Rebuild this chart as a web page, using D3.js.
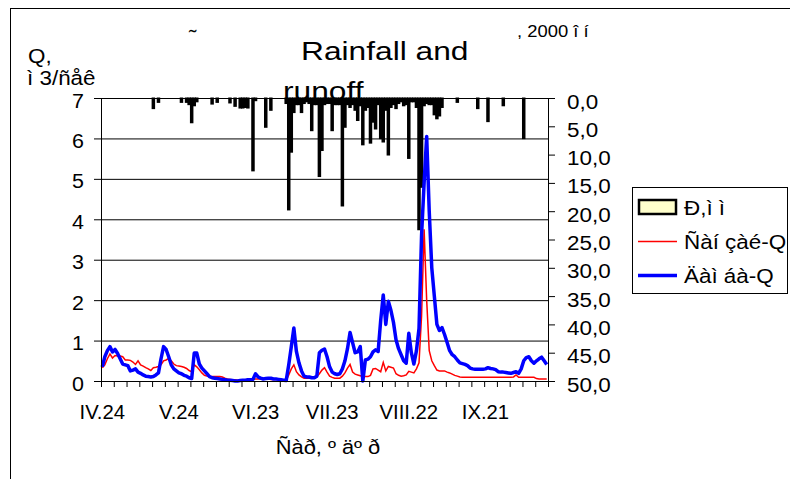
<!DOCTYPE html>
<html>
<head>
<meta charset="utf-8">
<script src="https://cdn.jsdelivr.net/npm/d3@7"></script>
<style>
body { margin: 0; background: #fff; }
svg { display: block; font-family: "Liberation Sans", Arial, sans-serif; }
</style>
</head>
<body>
<svg width="790" height="479"></svg>
<script>
// daily categories, 24 Apr .. 15 Oct 2000
const firstDay = new Date(2000, 3, 24);
const lastDay = new Date(2000, 9, 16);
const romanMonths = ['I','II','III','IV','V','VI','VII','VIII','IX','X','XI','XII'];
const labelEvery = 30;
const tickEvery = 5;

const seriesNames = ['Ð,ì ì', 'Ñàí çàé-Q', 'Äàì áà-Q'];

// rainfall, mm (right axis, hanging bars)
const rain = [
    0,0,0,0,0,0,0,0,0,0,
    0,0,0,0,0,0,0,0,0,0,
    1.7,0,0.6,0,0,0,0,0,0,0,
    0,0.6,0,0.6,1.0,4.2,1.2,0.5,0,0,
    0,0,0,0.9,0,0.6,0,0,0,0,
    0.7,0,1.3,0,1.6,1.6,1.5,1.6,0,12.7,
    0.3,0,0,0,5.0,0,2.0,0,0,0,
    0,0,0.8,19.6,9.4,2.4,1.0,1.0,2.4,0.8,
    0.5,0.8,5.6,1.0,1.0,13.7,9.1,1.0,0.8,0.8,
    5.6,1.0,1.0,1.0,18.9,5.0,1.0,1.5,1.0,2.0,
    3.8,1.2,8.1,2.0,1.5,7.8,4.1,5.3,1.0,7.0,
    7.6,2.0,9.9,1.5,1.0,1.7,0.8,0.5,1.2,1.0,
    10.5,0.5,0.5,1.5,23.1,15.6,1.2,0.8,1.0,1.0,
    2.8,3.5,3.0,1.5,0,0,0,0,0,0.6,
    0,0,0,0,0,0,0,1.7,0,0,
    0,4.0,0,0,0,0,0,1.2,0,0,
    0,0,0,0,0,7.0,0,0,0,0,
    0,0,0,0,0
];

// red series, m3/s
const sanzaiQ = [
    0.33,0.4,0.55,0.67,0.57,0.63,0.62,0.62,0.6,0.52,
    0.52,0.51,0.47,0.41,0.5,0.4,0.37,0.33,0.3,0.26,
    0.33,0.34,0.36,0.4,0.5,0.52,0.56,0.5,0.42,0.38,
    0.37,0.36,0.34,0.31,0.26,0.23,0.4,0.35,0.28,0.2,
    0.14,0.12,0.1,0.11,0.11,0.11,0.11,0.1,0.07,0.05,
    0.04,0.03,0.03,0.02,0.02,0.03,0.03,0.04,0.04,0.04,
    0.05,0.05,0.05,0.05,0.05,0.05,0.04,0.04,0.04,0.04,
    0.03,0.02,0.01,0.15,0.3,0.4,0.23,0.15,0.1,0.07,
    0.07,0.07,0.07,0.08,0.11,0.18,0.27,0.33,0.22,0.12,
    0.09,0.07,0.07,0.07,0.12,0.2,0.32,0.41,0.22,0.17,
    0.15,0.13,0.11,0.11,0.11,0.14,0.3,0.31,0.27,0.23,
    0.46,0.25,0.36,0.34,0.32,0.18,0.14,0.12,0.13,0.15,
    0.24,0.22,0.2,0.3,0.45,1.6,3.75,2.0,0.75,0.5,
    0.38,0.27,0.25,0.25,0.25,0.22,0.2,0.17,0.14,0.12,
    0.1,0.09,0.09,0.09,0.09,0.09,0.09,0.09,0.09,0.09,
    0.09,0.09,0.09,0.09,0.09,0.09,0.09,0.09,0.09,0.09,
    0.09,0.1,0.15,0.09,0.09,0.09,0.09,0.09,0.09,0.09,
    0.06,0.05,0.05,0.05,0.05
];

// blue series, m3/s
const dambaQ = [
    0.35,0.6,0.75,0.85,0.72,0.78,0.68,0.55,0.42,0.4,
    0.38,0.25,0.27,0.3,0.22,0.19,0.15,0.12,0.11,0.1,
    0.11,0.15,0.2,0.55,0.85,0.78,0.6,0.4,0.3,0.25,
    0.2,0.18,0.14,0.12,0.08,0.06,0.69,0.69,0.42,0.32,
    0.25,0.18,0.11,0.08,0.07,0.06,0.05,0.04,0.03,0.02,
    0.02,0.01,0,0,0.01,0.02,0.02,0.03,0.03,0.04,
    0.18,0.1,0.07,0.05,0.06,0.07,0.07,0.05,0.05,0.04,
    0.03,0.02,0.01,0.4,0.85,1.31,0.73,0.45,0.25,0.12,
    0.1,0.1,0.08,0.08,0.12,0.7,0.76,0.79,0.6,0.35,
    0.22,0.18,0.16,0.18,0.3,0.5,0.8,1.2,0.95,0.7,
    0.72,0.85,0,0.52,0.54,0.6,0.72,0.77,0.73,1.5,
    2.13,1.4,1.97,1.75,1.45,1.02,0.8,0.65,0.5,0.44,
    1.18,0.7,0.42,0.75,1.3,3.6,4.9,6.05,4.2,2.8,
    2.1,1.4,1.25,1.32,1.15,0.95,0.75,0.65,0.6,0.52,
    0.45,0.43,0.41,0.38,0.32,0.3,0.29,0.29,0.29,0.29,
    0.3,0.33,0.31,0.3,0.28,0.23,0.22,0.22,0.21,0.2,
    0.19,0.21,0.23,0.19,0.3,0.5,0.58,0.6,0.5,0.44,
    0.5,0.55,0.59,0.5,0.41
];

const qTicks = [0,1,2,3,4,5,6,7];
const rainTicks = [0,5,10,15,20,25,30,35,40,45,50];

var L = 101, R = 548, T = 98, B = 381;

var days = d3.timeDay.range(firstDay, lastDay);

var svg = d3.select('svg');

var x = d3.scaleBand().domain(d3.range(days.length)).range([L, R]).padding(0);
var bw = x.bandwidth();
var xLin = d3.scaleLinear().domain([0, days.length]).range([L, R]);
var y = d3.scaleLinear().domain([0, 7]).range([B, T]);
var yR = d3.scaleLinear().domain([0, 50]).range([T, B]);

var comma = d3.formatLocale({decimal: ',', thousands: ' ', grouping: [3], currency: ['', '']}).format('.1f');

function txt(g, px, py, s, size, sx, anchor) {
    return g.append('text')
        .attr('transform', `translate(${px},${py}) scale(${sx},1)`)
        .attr('font-size', size)
        .attr('text-anchor', anchor || 'start')
        .attr('fill', '#000')
        .text(s);
}

// chart frame
svg.append('rect')
    .attr('x', 10.5).attr('y', 8.5)
    .attr('width', 800).attr('height', 500)
    .attr('fill', 'none').attr('stroke', '#000');

// gridlines
svg.append('g').selectAll('line')
    .data(qTicks.filter(d => d > 0)).enter().append('line')
    .attr('x1', L).attr('x2', R)
    .attr('y1', d => y(d) + 0.5).attr('y2', d => y(d) + 0.5)
    .attr('stroke', '#000');

// rainfall bars hanging from the top
svg.append('g').selectAll('rect')
    .data(rain.map((v, i) => [i, v]).filter(d => d[1] > 0)).enter().append('rect')
    .attr('x', d => x(d[0]) + bw / 2 - 0.75)
    .attr('y', T + 0.5)
    .attr('width', 1.5)
    .attr('height', d => yR(d[1]) - T)
    .attr('fill', '#ffffcc')
    .attr('stroke', '#000')
    .attr('stroke-width', 2);

var line = d3.line()
    .x((d, i) => x(i) + bw / 2)
    .y(d => y(d));

svg.append('path').datum(sanzaiQ)
    .attr('d', line)
    .attr('fill', 'none')
    .attr('stroke', '#ff0000')
    .attr('stroke-width', 1.5);

svg.append('path').datum(dambaQ)
    .attr('d', line)
    .attr('fill', 'none')
    .attr('stroke', '#0000ff')
    .attr('stroke-width', 3.5)
    .attr('stroke-linejoin', 'round');

// left axis
var gl = svg.append('g')
    .attr('transform', `translate(${L},0)`)
    .call(d3.axisLeft(y).tickValues(qTicks).tickFormat(d3.format('d')).tickSize(7).tickSizeOuter(0))
    .attr('font-size', null).attr('font-family', null);
gl.selectAll('.tick text')
    .attr('x', null).attr('dy', null)
    .attr('transform', 'translate(-17,9) scale(1.1,1)')
    .attr('font-size', 19.5)
    .attr('fill', '#000');

// right axis
var gr = svg.append('g')
    .attr('transform', `translate(${R},0)`)
    .call(d3.axisRight(yR).tickValues(rainTicks).tickFormat(comma).tickSize(7).tickSizeOuter(0))
    .attr('font-size', null).attr('font-family', null);
gr.selectAll('.tick text')
    .attr('x', null).attr('dy', null)
    .attr('transform', 'translate(19,10) scale(1.15,1)')
    .attr('font-size', 19.5)
    .attr('fill', '#000');

// bottom axis: ticks between categories, labels every 30 days
svg.append('g')
    .attr('transform', `translate(0,${B})`)
    .call(d3.axisBottom(xLin).tickValues(d3.range(0, days.length + 1, tickEvery)).tickFormat('').tickSize(6).tickSizeOuter(0));

var gx = svg.append('g');
days.forEach((d, i) => {
    if (i % labelEvery === 0)
        txt(gx, x(i) + bw / 2, 419, romanMonths[d.getMonth()] + '.' + d.getDate(), 19.5, 1.04, 'middle');
});

// titles
txt(svg, 301, 60, 'Rainfall and', 26, 1.22);
txt(svg, 283, 100, 'runoff', 26, 1.22);
txt(svg, 189, 44, '˜', 19.5, 1.15);
txt(svg, 517, 37, ',  2000  î  í', 16, 1.15);
txt(svg, 28, 63, 'Q,', 19.5, 1.15);
txt(svg, 27, 85, 'ì 3/ñåê', 19.5, 1.15);
txt(svg, 328, 454, 'Ñàð, º äº ð', 19.5, 1.12, 'middle');

// legend
var lg = svg.append('g');
lg.append('rect')
    .attr('x', 632.5).attr('y', 187.5)
    .attr('width', 155).attr('height', 106)
    .attr('fill', '#fff').attr('stroke', '#000');
lg.append('rect')
    .attr('x', 639).attr('y', 200)
    .attr('width', 37).attr('height', 14)
    .attr('fill', '#ffffcc').attr('stroke', '#000').attr('stroke-width', 2.5);
lg.append('line')
    .attr('x1', 638).attr('x2', 677).attr('y1', 241.5).attr('y2', 241.5)
    .attr('stroke', '#ff0000').attr('stroke-width', 1.5);
lg.append('line')
    .attr('x1', 638).attr('x2', 677).attr('y1', 275.5).attr('y2', 275.5)
    .attr('stroke', '#0000ff').attr('stroke-width', 3.5);
seriesNames.forEach((s, i) => txt(lg, 684, 215 + i * 34, s, 19.5, 1.15));
</script>
</body>
</html>
